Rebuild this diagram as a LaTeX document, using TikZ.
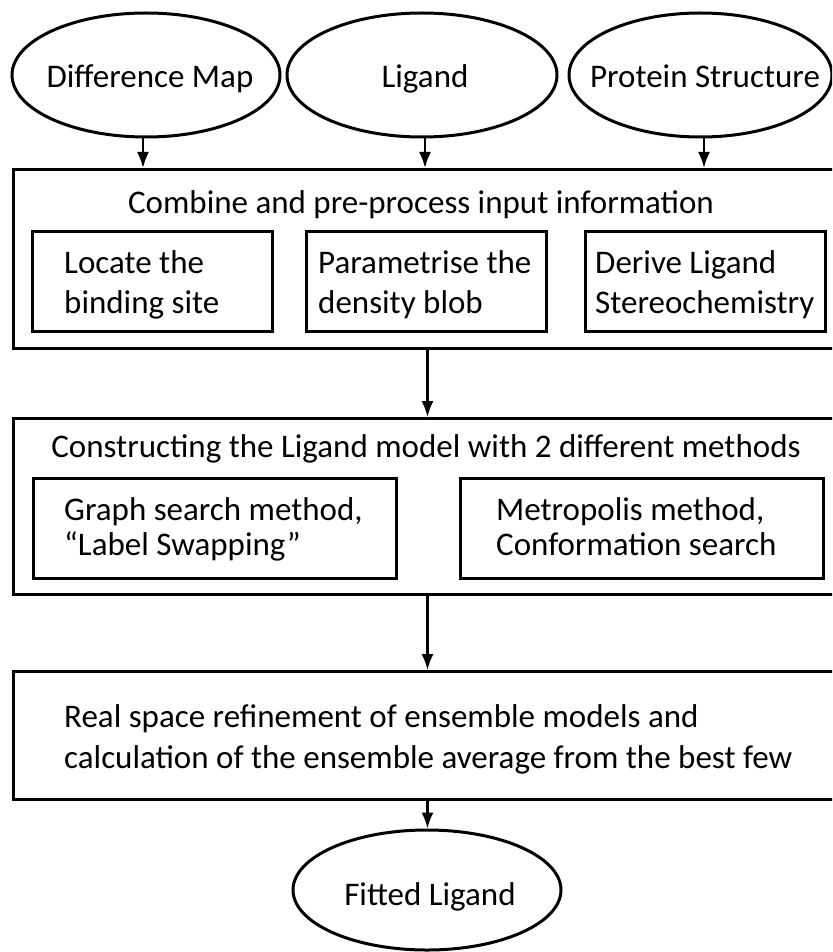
\documentclass[tikz,border=0pt]{standalone}
\usepackage{fontspec}
\setmainfont{Carlito}
\usetikzlibrary{shapes.geometric,arrows.meta,calc}
\begin{document}
\begin{tikzpicture}[x=1pt,y=-1pt,
  every node/.style={font=\fontsize{33}{40}\selectfont},
  ell/.style={draw, ellipse, line width=3pt, inner sep=0pt},
  box/.style={draw, rectangle, line width=3pt, inner sep=0pt, anchor=north west},
  txt/.style={align=left, anchor=base west, inner sep=0pt},
  ctxt/.style={anchor=base, inner sep=0pt},
  arr/.style={line width=2.2pt, -{Latex[length=16pt,width=12pt]}}]
\clip (0,0) rectangle (832,952);
\fill[white] (0,0) rectangle (832,952);
% input ellipses
\node[ell, minimum width=268pt, minimum height=124pt] (dm) at (146,75) {};
\node[ell, minimum width=270pt, minimum height=124pt] (lg) at (422,75) {};
\node[ell, minimum width=263pt, minimum height=124pt] (ps) at (700.5,75) {};
\node[ctxt] (dmt) at (150,88) {Difference Map};
\node[ctxt] (lgt) at (425,88) {Ligand};
\node[ctxt] (pst) at (705,88) {Protein Structure};
% box 1
\node[box, minimum width=828pt, minimum height=179pt] (c1) at (12,168) {};
\node[ctxt] (c1t) at (421,213) {Combine and pre-process input information};
\node[box, minimum width=240pt, minimum height=100pt] (c1a) at (31,230) {};
\node[box, minimum width=240pt, minimum height=100pt] (c1b) at (305,230) {};
\node[box, minimum width=240pt, minimum height=100pt] (c1c) at (584,230) {};
\node[txt] (c1at) at (64,313) {Locate the\\binding site};
\node[txt] (c1bt) at (318,313) {Parametrise the\\density blob};
\node[txt] (c1ct) at (595,313) {Derive Ligand\\Stereochemistry};
% box 2
\node[box, minimum width=828pt, minimum height=176pt] (c2) at (12,417) {};
\node[ctxt] (c2t) at (426,457) {Constructing the Ligand model with 2 different methods};
\node[box, minimum width=363pt, minimum height=100pt] (c2a) at (32,477) {};
\node[box, minimum width=363pt, minimum height=100pt] (c2b) at (459,477) {};
\node[txt, font=\fontsize{33}{35}\selectfont] (c2at) at (64,555) {Graph search method,\\``Label Swapping''};
\node[txt, font=\fontsize{33}{35}\selectfont] (c2bt) at (496,555) {Metropolis method,\\Conformation search};
% box 3
\node[box, minimum width=828pt, minimum height=128pt] (c3) at (12,670) {};
\node[txt, font=\fontsize{33}{41}\selectfont] (c3t) at (64,768) {Real space refinement of ensemble models and\\calculation of the ensemble average from the best few};
% output
\node[ell, minimum width=268pt, minimum height=120pt] (fl) at (427,890) {};
\node[ctxt] (flt) at (430,905) {Fitted Ligand};
% arrows
\coordinate (a1) at ($(dm.south)+(-3,0)$);
\coordinate (a2) at ($(lg.south)+(3,0)$);
\coordinate (a3) at ($(ps.south)+(3.5,0)$);
\draw[arr] (a1) -- (a1 |- c1.north);
\draw[arr] (a2) -- (a2 |- c1.north);
\draw[arr] (a3) -- (a3 |- c1.north);
\draw[arr] (c1.south) -- (c2.north);
\draw[arr] (c2.south) -- (c3.north);
\draw[arr] (c3.south) -- (c3.south |- fl.north);
\end{tikzpicture}
\end{document}
